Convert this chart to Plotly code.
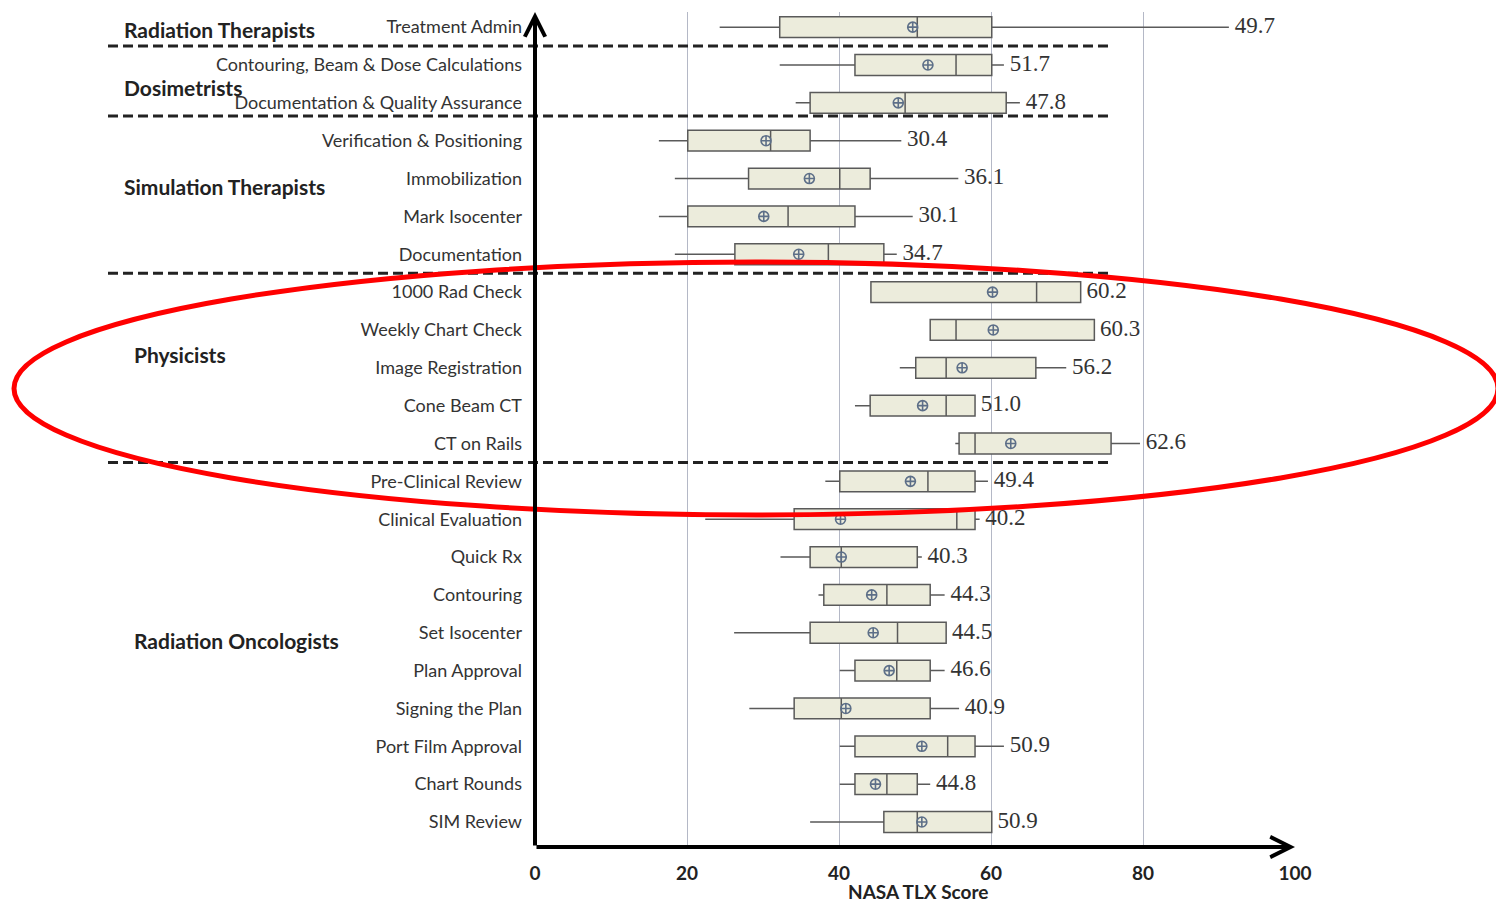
import plotly.graph_objects as go

categories = ["Treatment Admin", "Contouring, Beam & Dose Calculations",
              "Documentation & Quality Assurance", "Verification & Positioning",
              "Immobilization", "Mark Isocenter", "Documentation",
              "1000 Rad Check", "Weekly Chart Check", "Image Registration",
              "Cone Beam CT", "CT on Rails", "Pre-Clinical Review",
              "Clinical Evaluation", "Quick Rx", "Contouring", "Set Isocenter",
              "Plan Approval", "Signing the Plan", "Port Film Approval",
              "Chart Rounds", "SIM Review"]
lower = [24.3, 32.2, 34.3, 16.3, 18.4, 16.3, 18.4, 44.2, 52.0, 48.0, 42.1,
         55.3, 38.2, 22.4, 32.3, 37.3, 26.2, 40.1, 28.2, 40.1, 40.1, 36.2]
q1 = [32.2, 42.1, 36.2, 20.1, 28.1, 20.1, 26.3, 44.2, 52.0, 50.1, 44.1,
      55.8, 40.1, 34.1, 36.2, 38.0, 36.2, 42.1, 34.1, 42.1, 42.1, 45.9]
median = [50.3, 55.4, 48.7, 31.0, 40.1, 33.3, 38.6, 66.0, 55.4, 54.1, 54.1,
          57.9, 51.7, 55.5, 40.3, 46.3, 47.7, 47.6, 40.3, 54.3, 46.3, 50.3]
q3 = [60.1, 60.1, 62.0, 36.2, 44.1, 42.1, 45.9, 71.8, 73.6, 65.9, 57.9,
      75.8, 57.9, 57.9, 50.3, 52.0, 54.1, 52.0, 52.0, 57.9, 50.3, 60.1]
upper = [91.3, 61.7, 63.8, 48.2, 55.7, 49.7, 47.6, 71.8, 73.6, 69.9, 57.9,
         79.6, 59.6, 58.5, 50.9, 53.9, 54.1, 53.9, 55.8, 61.7, 52.0, 60.1]
means = [49.7, 51.7, 47.8, 30.4, 36.1, 30.1, 34.7, 60.2, 60.3, 56.2, 51.0,
         62.6, 49.4, 40.2, 40.3, 44.3, 44.5, 46.6, 40.9, 50.9, 44.8, 50.9]

groups = ["Radiation Therapists", "Dosimetrists", "Simulation Therapists",
          "Physicists", "Radiation Oncologists"]
group_rows = [0.05, 1.6, 4.2, 8.65, 16.2]
group_indent = [122, 122, 122, 132, 132]
separators = [0.5, 2.35, 6.5, 11.5]
xticks = [0, 20, 40, 60, 80, 100]
x_title = "NASA TLX Score"

ypos = list(range(len(categories)))
YBOT, YTOP = 21.66, -0.4
OFF = 8  # page body margin
W, H = 1504 - OFF, 905 - OFF
L, T = 535 - OFF, 12 - OFF
PW = 760
PH = 835
R = W - L - PW
B = H - T - PH


def px2paper(px):
    return (px - OFF - L) / PW


def py2paper(py):
    return (T + PH - (py - OFF)) / PH


fig = go.Figure()
fig.add_trace(go.Box(
    orientation="h", y=ypos, q1=q1, median=median, q3=q3,
    lowerfence=lower, upperfence=upper, width=0.55, whiskerwidth=0,
    fillcolor="#ECECDC", line=dict(color="#5a5a5a", width=1.5),
    boxpoints=False, showlegend=False, hoverinfo="skip"))

fig.add_trace(go.Scatter(
    x=means, y=ypos, mode="markers",
    marker=dict(symbol="circle-cross-open", size=10,
                color="#5d6f88", line=dict(width=1.6)),
    showlegend=False, hoverinfo="skip"))

ends = [max(u, q) for u, q in zip(upper, q3)]
fig.add_trace(go.Scatter(
    x=ends, y=ypos, mode="text", text=[f" {m:.1f}" for m in means],
    textposition="middle right",
    textfont=dict(family="Liberation Serif", size=23, color="#333333"),
    showlegend=False, hoverinfo="skip"))

shapes = []
for s in separators:
    shapes.append(dict(type="line", xref="paper", yref="y",
                       x0=px2paper(108), x1=px2paper(1113), y0=s, y1=s,
                       line=dict(color="#222222", width=3, dash="10px,5px")))
shapes.append(dict(type="circle", xref="paper", yref="paper",
                   x0=px2paper(14), x1=px2paper(1498),
                   y0=py2paper(515), y1=py2paper(262),
                   line=dict(color="#ff0000", width=5), layer="above"))

annotations = []
for g, r, ind in zip(groups, group_rows, group_indent):
    annotations.append(dict(text=g, xref="paper", yref="y", x=px2paper(ind),
                            y=r, xanchor="left", yanchor="middle",
                            showarrow=False,
                            font=dict(family="Lato", size=21,
                                      color="#222222", weight="bold")))
annotations.append(dict(text=x_title, xref="paper", yref="paper",
                        x=px2paper(918), y=py2paper(891), xanchor="center",
                        yanchor="middle", showarrow=False,
                        font=dict(family="Lato", size=19, color="#222222",
                                  weight="bold")))
# axes arrows
annotations.append(dict(x=100, y=YBOT, ax=0, ay=YBOT, xref="x", yref="y",
                        axref="x", ayref="y", text="", showarrow=True,
                        arrowhead=5, arrowsize=1, arrowwidth=4,
                        arrowcolor="#000000"))
annotations.append(dict(x=0, y=YTOP, ax=0, ay=YBOT, xref="x", yref="y",
                        axref="x", ayref="y", text="", showarrow=True,
                        arrowhead=5, arrowsize=1, arrowwidth=4,
                        arrowcolor="#000000"))

fig.update_layout(
    width=W, height=H, margin=dict(l=L, r=R, t=T, b=B, autoexpand=False),
    plot_bgcolor="white", paper_bgcolor="white",
    shapes=shapes, annotations=annotations,
    xaxis=dict(range=[0, 100], tickvals=xticks, showgrid=True,
               gridcolor="#b4b8c6", gridwidth=1, zeroline=False,
               showline=False, ticks="", ticklabelstandoff=13,
               tickfont=dict(family="Lato", size=19, color="#222222",
                             weight="bold"),
               automargin=False, fixedrange=True),
    yaxis=dict(range=[YBOT, YTOP], tickvals=ypos, ticktext=categories,
               showgrid=False, zeroline=False, showline=False, ticks="",
               ticklabelstandoff=12,
               tickfont=dict(family="Lato", size=18, color="#333333"),
               automargin=False, fixedrange=True),
)

fig.write_html("out.html")
